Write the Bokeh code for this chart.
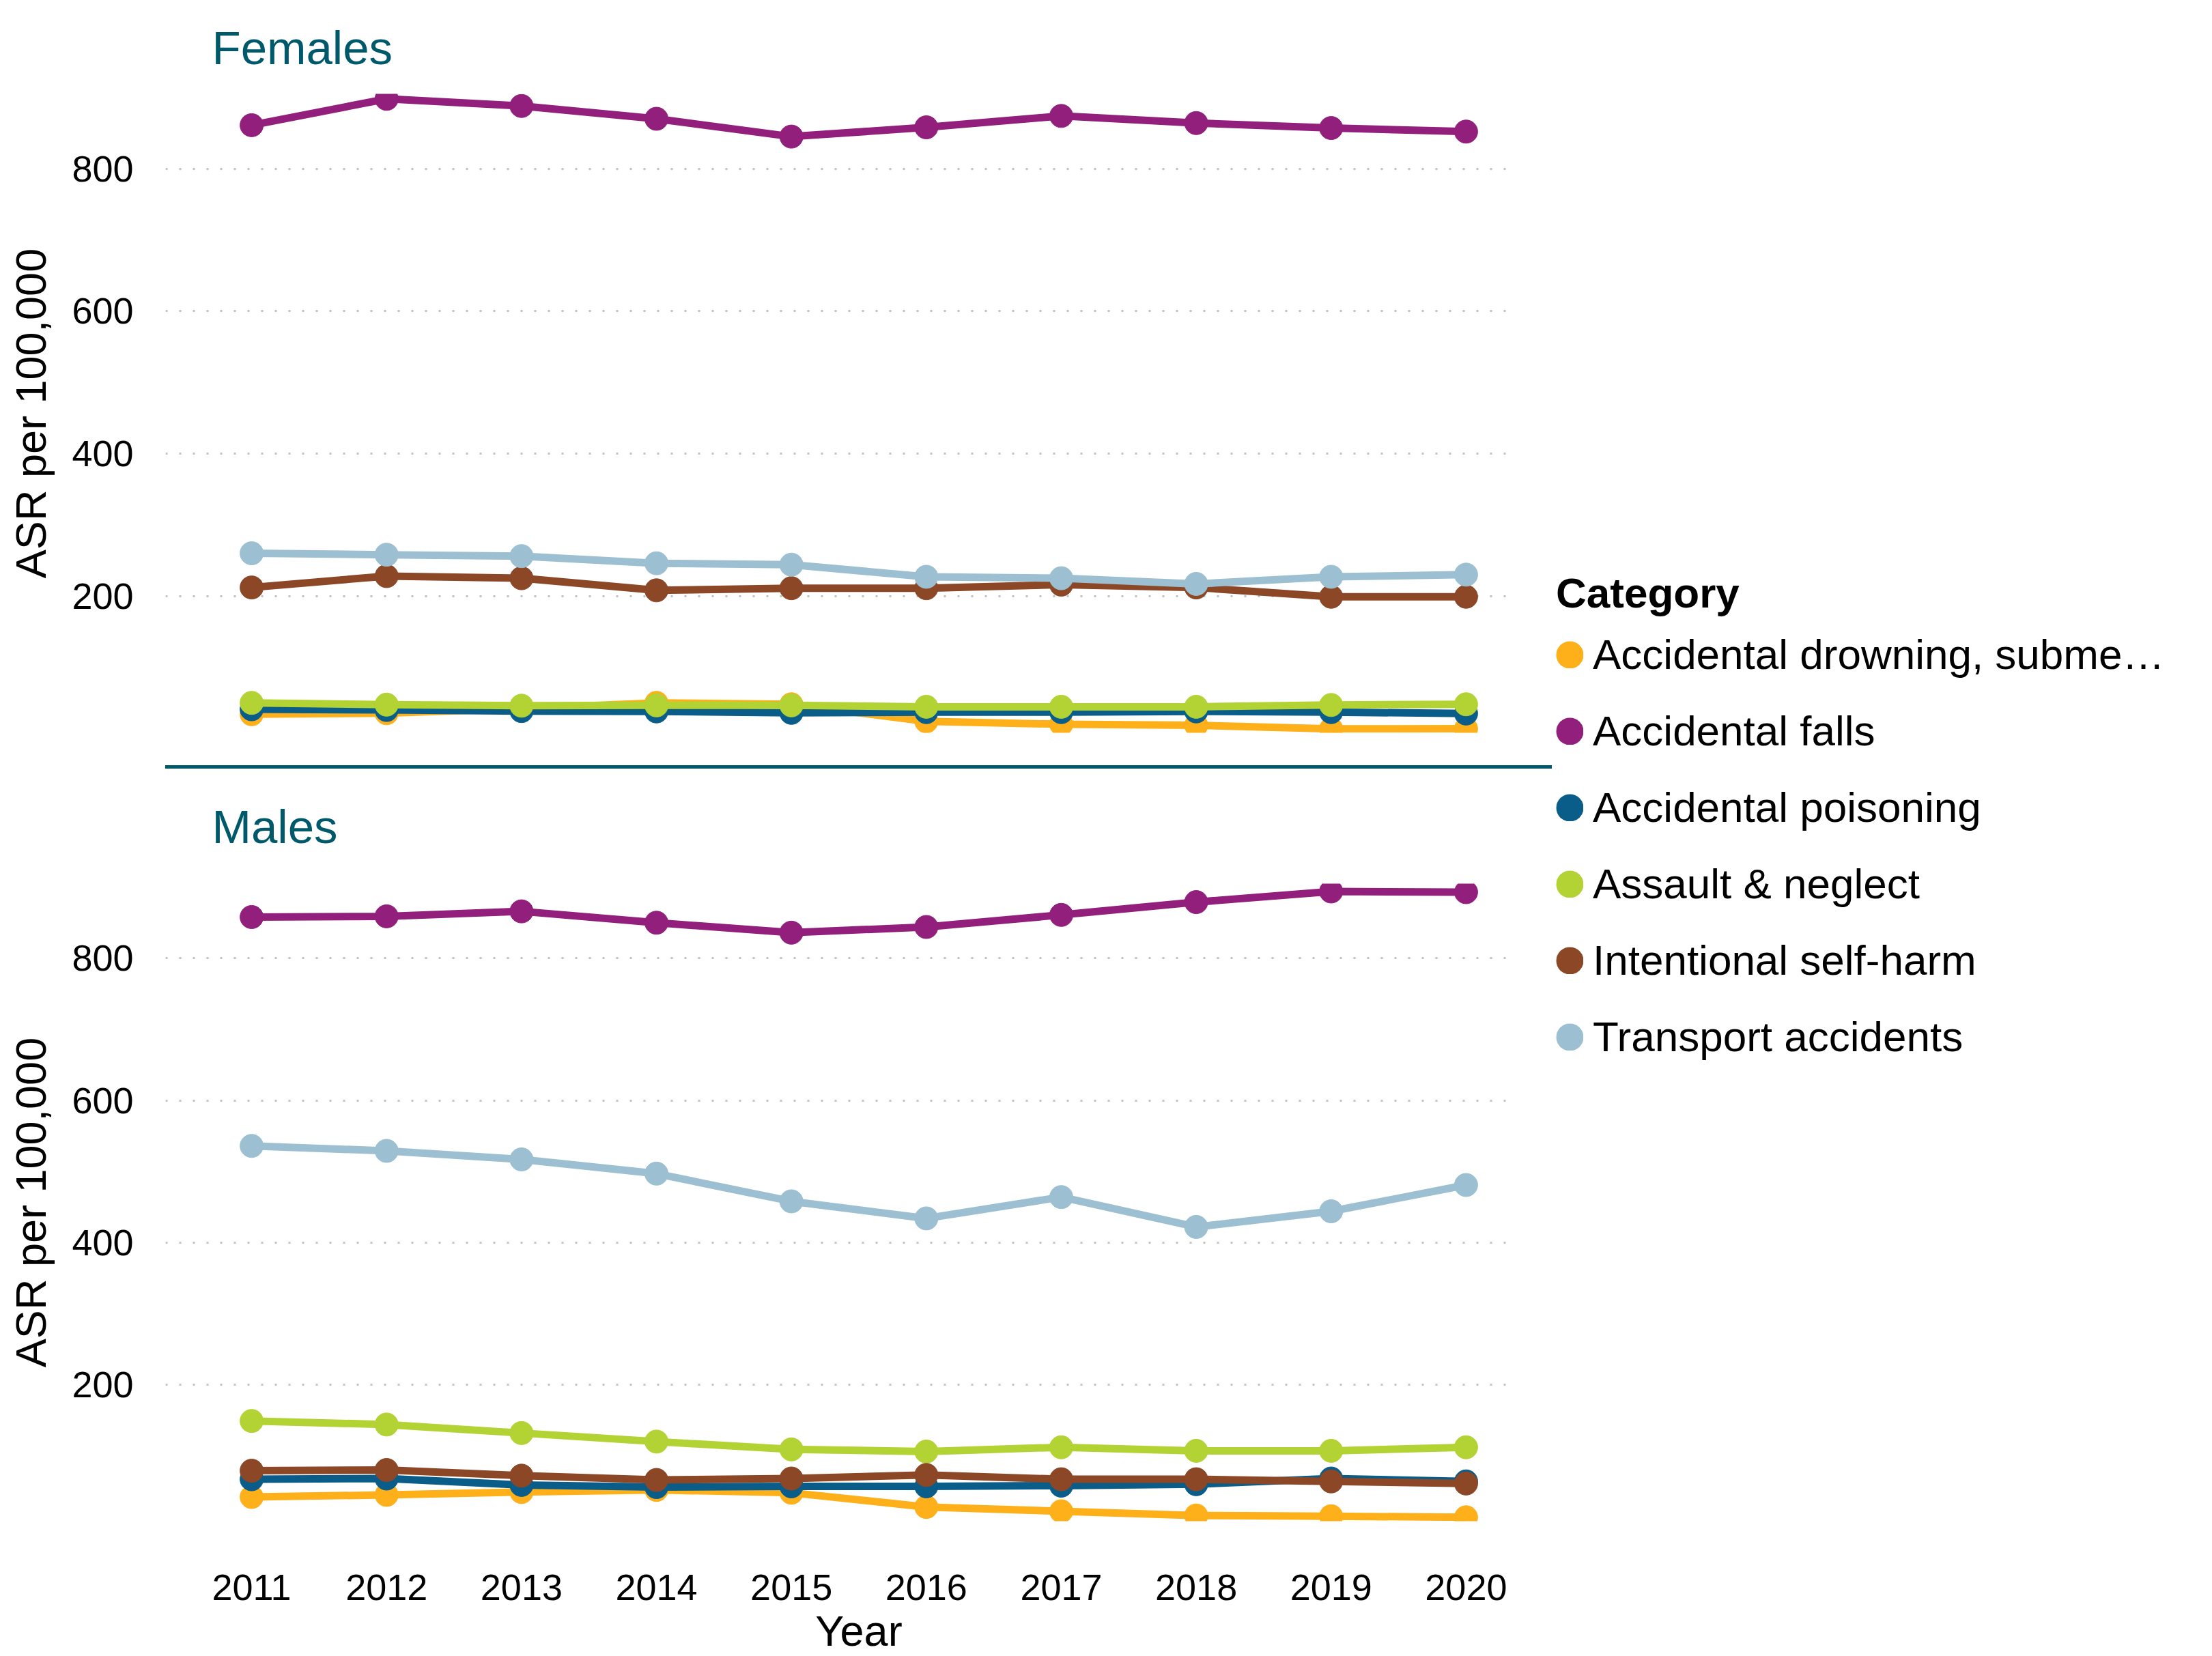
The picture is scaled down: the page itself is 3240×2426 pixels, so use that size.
from bokeh.plotting import figure
from bokeh.layouts import row, column
from bokeh.models import Range1d, FixedTicker, Legend, LegendItem, Title, Grid, Div, Spacer
from bokeh.embed import file_html
from bokeh.resources import INLINE

FONT = "Liberation Sans"
TEAL = "#00596B"

years = [2011, 2012, 2013, 2014, 2015, 2016, 2017, 2018, 2019, 2020]
y_ticks = [200, 400, 600, 800]

categories = [
    "Accidental drowning, subme\u2026",
    "Accidental falls",
    "Accidental poisoning",
    "Assault & neglect",
    "Intentional self-harm",
    "Transport accidents",
]
colors = ["#FDB01A", "#931F7C", "#0B5D89", "#B3D234", "#8C4727", "#9CC0D1"]

# Females (ASR per 100,000)
f_drowning = [34, 35.5, 42, 50, 48, 24, 20, 18.5, 13.5, 13.7]
f_falls = [861, 898, 888, 870, 845, 858, 874, 864, 857, 852]
f_poisoning = [41, 40, 38.5, 38, 36, 37, 37, 38, 37, 35]
f_assault = [50, 47.5, 46, 46.5, 46.5, 44.5, 44.5, 44.5, 47, 48]
f_selfharm = [212, 228, 225, 208, 211, 211, 216, 212, 199, 199]
f_transport = [260, 258, 256, 246, 244, 227, 225, 217, 227, 230]

# Males (ASR per 100,000)
m_drowning = [42, 45, 49, 52, 48, 28, 22, 16, 15, 13.5]
m_falls = [858, 859, 866, 850, 836, 844, 861, 879, 894, 893]
m_poisoning = [67, 68, 59, 56, 57, 57, 58, 60, 68, 64]
m_assault = [149, 144, 132, 120, 109, 106, 112, 107, 107, 112]
m_selfharm = [79, 80, 72, 66, 68, 73, 67, 67, 64, 61]
m_transport = [536, 529, 517, 497, 458, 434, 464, 422, 444, 481]

females = [f_drowning, f_falls, f_poisoning, f_assault, f_selfharm, f_transport]
males = [m_drowning, m_falls, m_poisoning, m_assault, m_selfharm, m_transport]

X_START, X_END = 2010.362, 2020.638
Y_START, Y_END = 8, 905
PANEL_W = 2273
LEFT = 242


def make_panel(title_text, series, height, mb_top, mb_bottom, show_x, title_standoff):
    p = figure(
        width=PANEL_W, height=height,
        x_range=Range1d(X_START, X_END), y_range=Range1d(Y_START, Y_END),
        min_border_left=LEFT, min_border_right=0,
        min_border_top=mb_top, min_border_bottom=mb_bottom,
        toolbar_location=None, output_backend="svg",
        x_axis_location="below" if show_x else None,
        outline_line_color=None,
    )
    p.add_layout(Title(text=title_text, align="left", offset=68, standoff=title_standoff,
                       text_font=FONT, text_font_size="69px",
                       text_font_style="normal", text_color=TEAL), "above")

    for vals, col in zip(series, colors):
        p.line(years, vals, line_width=11, color=col, line_join="round")
        p.scatter(years, vals, size=34, color=col)

    p.xgrid.visible = False
    g = p.ygrid[0]
    g.grid_line_color = "#C2C2C2"
    g.grid_line_width = 3
    g.grid_line_dash = "3 17"
    if "cross_bounds" in Grid.properties():
        g.cross_bounds = (X_START, 2020.32)

    ya = p.left[0]
    ya.ticker = FixedTicker(ticks=y_ticks)
    ya.axis_line_color = None
    ya.major_tick_line_color = None
    ya.minor_tick_line_color = None
    ya.major_label_text_font = FONT
    ya.major_label_text_font_size = "54px"
    ya.major_label_text_color = "black"
    ya.major_label_standoff = 41
    ya.axis_label = "ASR per 100,000"
    ya.axis_label_text_font = FONT
    ya.axis_label_text_font_size = "63px"
    ya.axis_label_text_font_style = "normal"
    ya.axis_label_text_color = "black"
    ya.axis_label_standoff = 22

    if show_x:
        xa = p.below[0]
        xa.ticker = FixedTicker(ticks=years)
        xa.axis_line_color = None
        xa.major_tick_line_color = None
        xa.minor_tick_line_color = None
        xa.major_label_text_font = FONT
        xa.major_label_text_font_size = "54px"
        xa.major_label_text_color = "black"
        xa.major_label_standoff = 72
        xa.axis_label = "Year"
        xa.axis_label_text_font = FONT
        xa.axis_label_text_font_size = "63px"
        xa.axis_label_text_font_style = "normal"
        xa.axis_label_text_color = "black"
        xa.axis_label_standoff = 7
    return p


top = make_panel("Females", females, 1121, 137, 48, False, 58)
bottom = make_panel("Males", males, 1300, 167, 196, True, 89)

# teal divider between the two panels
divider = row(
    Spacer(width=LEFT, height=5, margin=0),
    Div(text="", width=PANEL_W - LEFT, height=5, margin=0,
        styles={"background-color": TEAL}),
)

# Legend panel
leg = figure(width=967, height=2426, x_range=Range1d(0, 1), y_range=Range1d(0, 1),
             min_border_left=6, min_border_top=833, min_border_right=0, min_border_bottom=0,
             x_axis_location=None, y_axis_location=None, toolbar_location=None,
             output_backend="svg", outline_line_color=None)
leg.grid.visible = False
items = []
for cat, col, vals in zip(categories, colors, males):
    # series lie outside this panel's ranges: only their legend swatches show
    r = leg.scatter(years, vals, size=16, fill_color=col, line_color=col, line_width=24)
    items.append(LegendItem(label=cat, renderers=[r]))
legend = Legend(items=items, location="top_left", margin=0, padding=0,
                border_line_color=None, background_fill_alpha=0,
                glyph_width=40, glyph_height=40, label_standoff=14, spacing=41,
                label_text_font=FONT, label_text_font_size="62px", label_text_color="black",
                title="Category", title_text_font=FONT, title_text_font_size="62px",
                title_text_font_style="bold", title_text_color="black", title_standoff=19)
leg.add_layout(legend)

layout = row(column(top, divider, bottom), leg)
open("out.html", "w").write(file_html(layout, INLINE))
